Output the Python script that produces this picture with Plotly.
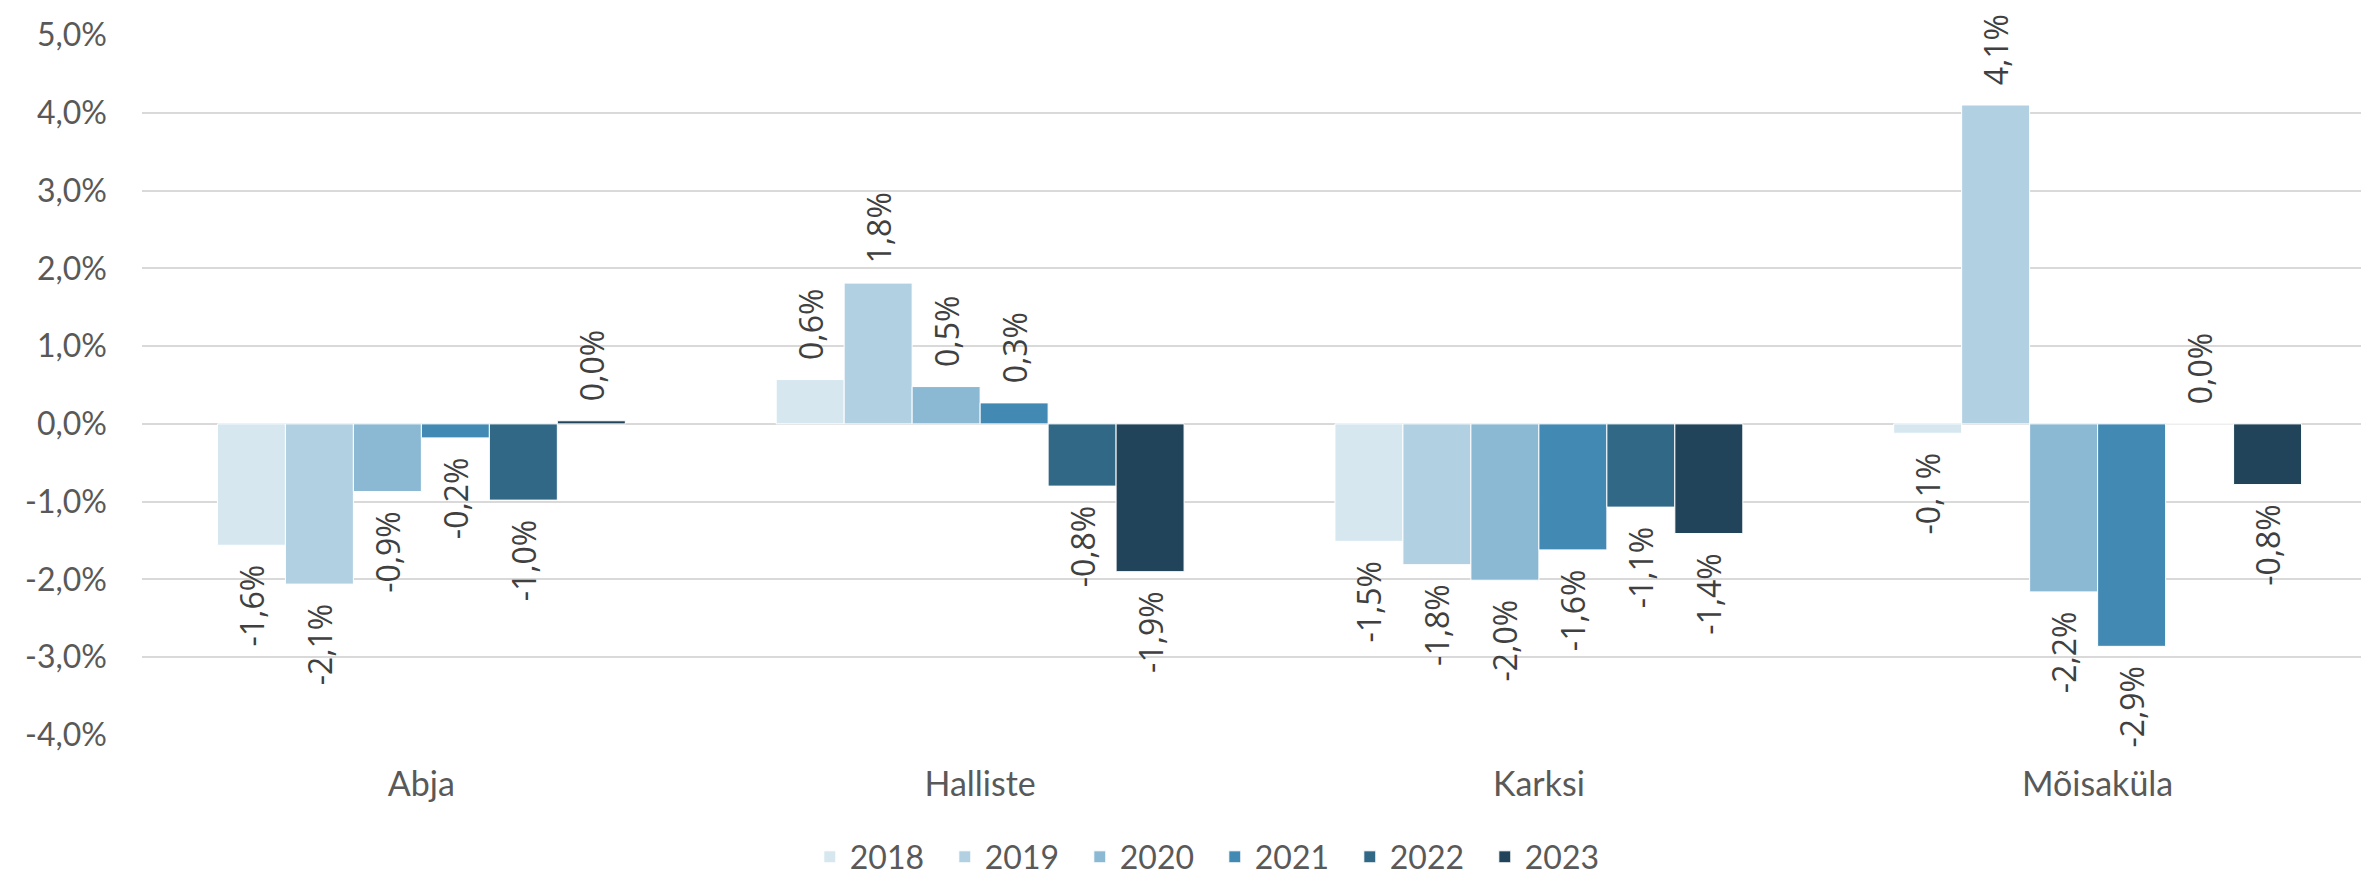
import plotly.graph_objects as go

categories = ["Abja", "Halliste", "Karksi", "Mõisaküla"]
years = ["2018", "2019", "2020", "2021", "2022", "2023"]
values = {
    "2018": [-1.56, 0.57, -1.51, -0.12],
    "2019": [-2.06, 1.81, -1.81, 4.10],
    "2020": [-0.87, 0.48, -2.01, -2.16],
    "2021": [-0.18, 0.27, -1.62, -2.86],
    "2022": [-0.98, -0.80, -1.07, 0.001],
    "2023": [0.04, -1.90, -1.41, -0.78],
}
colors = ["#d6e7f0", "#b1d0e2", "#8bb9d4", "#428ab4", "#316886", "#21445a"]
tick_vals = [-4, -3, -2, -1, 0, 1, 2, 3, 4, 5]
tick_text = [f"{v:.1f}".replace(".", ",") + "%" for v in tick_vals]

PAD = "\u00a0\u00a0"


def fmt(v):
    s = f"{v:.1f}".replace(".", ",").replace("-0,0", "0,0") + "%"
    # padding on the end that faces the bar
    return PAD + s if v >= 0 else s + PAD


fig = go.Figure()
for y, c in zip(years, colors):
    fig.add_trace(go.Bar(
        name=y, x=categories, y=values[y],
        marker=dict(color=c, line=dict(color="white", width=1)),
        text=[fmt(v) for v in values[y]],
        textposition="outside", textangle=-90, constraintext="none",
        textfont=dict(family="Open Sans", size=32, color="#404040"),
        cliponaxis=False,
    ))

fig.update_layout(
    width=2369, height=877,
    margin=dict(l=134, r=0, t=27, b=137),
    paper_bgcolor="white", plot_bgcolor="white",
    barmode="group", bargap=0.27, bargroupgap=0,
    font=dict(family="Lato", color="#595959"),
    showlegend=True,
    legend=dict(orientation="h", x=0.48, xanchor="center", y=-0.135, yanchor="top",
                font=dict(family="Lato", size=32, color="#595959"),
                itemwidth=30, entrywidth=90, entrywidthmode="pixels",
                traceorder="normal"),
)
fig.update_yaxes(range=[-4, 5], tickvals=tick_vals, ticktext=tick_text,
                 showgrid=True, gridcolor="#d9d9d9", gridwidth=2,
                 zeroline=True, zerolinecolor="#d9d9d9", zerolinewidth=2,
                 tickfont=dict(family="Lato", size=32, color="#595959"),
                 ticklabelstandoff=34, showline=False)
fig.update_xaxes(tickfont=dict(family="Lato", size=34, color="#595959"),
                 showline=False, ticks="", ticklabelstandoff=26)

fig.write_html("out.html")
